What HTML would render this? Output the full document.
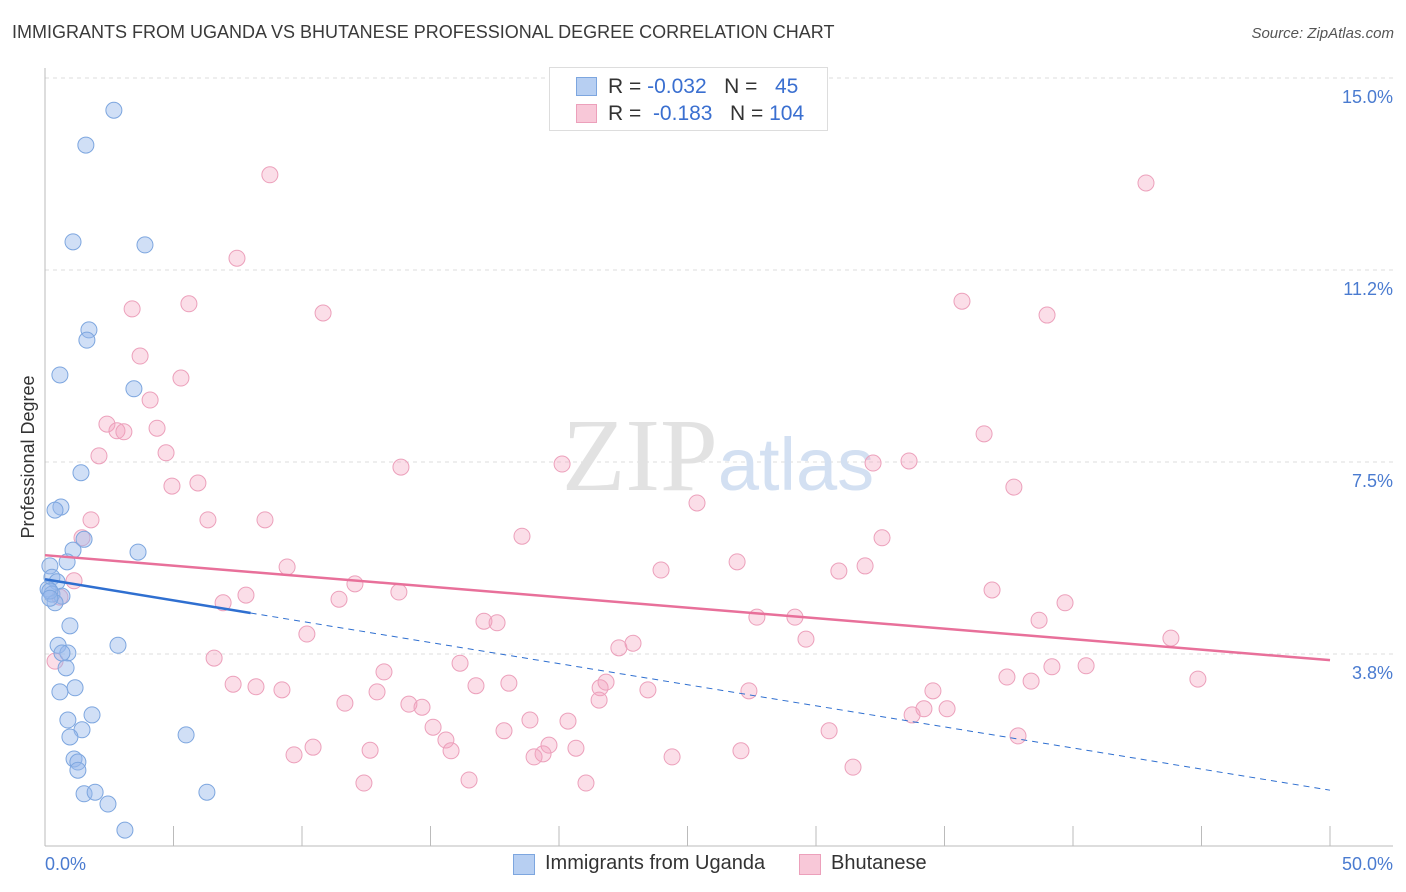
<!DOCTYPE html>
<html><head><meta charset="utf-8"><style>
body{margin:0;background:#fff;font-family:"Liberation Sans",sans-serif;}
#wrap{position:relative;width:1406px;height:892px;overflow:hidden;}
.t{position:absolute;white-space:nowrap;}
</style></head><body>
<div id="wrap">
<div class="t" style="left:12px;top:22px;font-size:18px;color:#3a3a3a;">IMMIGRANTS FROM UGANDA VS BHUTANESE PROFESSIONAL DEGREE CORRELATION CHART</div>
<div class="t" style="right:12px;top:25px;font-size:15px;color:#555;font-style:italic;">Source: ZipAtlas.com</div>
<svg id="svg" width="1406" height="892" style="position:absolute;left:0;top:0"></svg>
</div>
<script>
const xTicks=[0,5,10,15,20,25,30,35,40,45,50];
const yGrid=[15,11.25,7.5,3.75];
const yTickLabels=["15.0%","11.2%","7.5%","3.8%"];
const blueX=[2.68,1.59,1.09,3.89,1.71,1.63,0.58,3.46,1.40,0.62,0.39,1.52,1.09,3.62,0.86,0.19,0.27,0.47,0.12,0.27,0.66,0.39,0.19,2.84,0.51,0.97,0.89,0.66,0.82,1.17,0.58,1.83,0.89,1.44,0.97,5.49,1.13,1.28,1.28,1.52,1.95,2.45,6.30,3.11,0.19];
const blueY=[14.37,13.69,11.80,11.74,10.08,9.88,9.20,8.93,7.29,6.62,6.56,5.99,5.78,5.74,5.55,5.47,5.25,5.16,5.02,4.92,4.88,4.75,4.98,3.92,3.92,4.30,3.77,3.77,3.48,3.09,3.01,2.56,2.46,2.27,2.13,2.17,1.70,1.64,1.48,1.02,1.05,0.82,1.05,0.31,4.84];
const pinkX=[8.75,42.84,7.47,3.39,5.60,10.82,35.68,38.99,3.70,5.29,4.09,2.41,2.80,3.07,4.36,4.71,2.10,4.94,5.95,13.85,20.12,32.22,33.62,36.54,37.70,1.79,6.34,8.56,25.37,1.44,18.56,32.57,9.42,23.97,26.93,30.89,31.91,1.13,12.06,7.82,6.93,11.44,13.77,36.85,39.69,0.58,17.08,17.59,27.70,29.18,10.19,22.88,22.33,29.61,43.81,38.68,6.58,16.15,13.19,39.18,40.51,37.43,38.37,44.86,7.32,8.21,9.22,18.05,16.77,21.60,21.83,23.46,27.39,12.92,11.67,14.16,14.67,21.56,34.55,34.20,35.10,33.74,15.10,18.87,20.35,17.86,30.51,15.60,15.80,10.43,12.65,19.61,20.66,19.38,19.03,9.69,24.40,27.08,37.86,16.50,12.41,21.05,31.44,0.39];
const pinkY=[13.11,12.95,11.48,10.49,10.59,10.41,10.64,10.37,9.57,9.14,8.71,8.24,8.11,8.09,8.16,7.68,7.62,7.03,7.09,7.40,7.46,7.48,7.52,8.05,7.01,6.37,6.37,6.37,6.70,6.02,6.05,6.02,5.45,5.39,5.55,5.37,5.47,5.18,5.12,4.90,4.75,4.82,4.96,5.00,4.75,4.86,4.39,4.36,4.47,4.47,4.14,3.96,3.87,4.04,4.06,4.41,3.67,3.57,3.40,3.50,3.52,3.30,3.22,3.26,3.16,3.11,3.05,3.18,3.13,3.09,3.20,3.05,3.03,3.01,2.79,2.77,2.71,2.85,3.03,2.68,2.68,2.56,2.32,2.46,2.44,2.25,2.25,2.07,1.86,1.93,1.87,1.97,1.91,1.80,1.74,1.78,1.74,1.86,2.15,1.29,1.23,1.23,1.54,3.61];
const blueTrend=[5.21,1.09], pinkTrend=[5.68,3.63], blueSolidEnd=8;
const NS="http://www.w3.org/2000/svg";
const svg=document.getElementById('svg');
const X=v=>45+v/50*1285, Y=v=>846-v/3.75*192;
function mk(t,a,p){const e=document.createElementNS(NS,t);for(const k in a)e.setAttribute(k,a[k]);(p||svg).appendChild(e);return e;}
yGrid.forEach((g,i)=>{
 const l=mk('line',{x1:45,x2:1393,y1:Y(g),y2:Y(g),stroke:'#ddd','stroke-dasharray':'4,4'});
 
 
 const t=mk('text',{x:1393,y:Y(g)+25,'text-anchor':'end','font-size':18,fill:'#4a7bd0','font-family':'Liberation Sans'});
 t.textContent=yTickLabels[i];
 
 
});
const ax=mk('line',{x1:45,x2:45,y1:68,y2:846,stroke:'#bbb'});


const bx=mk('line',{x1:45,x2:1393,y1:846,y2:846,stroke:'#bbb'});


xTicks.forEach(v=>{const l=mk('line',{x1:X(v),x2:X(v),y1:826,y2:846,stroke:'#bbb'});
 
 });
[[0,"0.0%",'start',45],[50,"50.0%",'end',1393]].forEach(a=>{const t=mk('text',{x:a[3],y:870,'text-anchor':a[2],'font-size':18,fill:'#4a7bd0','font-family':'Liberation Sans'});t.textContent=a[1];
 
 });
const yt=mk('text',{x:0,y:0,transform:'translate(34,457) rotate(-90)','text-anchor':'middle','font-size':18,fill:'#333','font-family':'Liberation Sans'});
yt.textContent='Professional Degree';


const wm=mk('text',{x:718,y:490,'text-anchor':'middle','font-size':96,'font-family':'Liberation Serif',fill:'#ddd'});
wm.innerHTML='<tspan fill="#e2e2e2" font-size="104">ZIP</tspan><tspan fill="#d3e0f2" font-family="Liberation Sans" font-size="74">atlas</tspan>';


pinkX.forEach((x,i)=>{const c=mk('circle',{cx:X(x),cy:Y(pinkY[i]),r:8,fill:'rgba(244,160,190,0.35)',stroke:'#eca0bb','stroke-width':1});
 
 });
blueX.forEach((x,i)=>{const c=mk('circle',{cx:X(x),cy:Y(blueY[i]),r:8,fill:'rgba(150,185,235,0.45)',stroke:'#7da6df','stroke-width':1});
 
 });
const bAt=v=>blueTrend[0]+(blueTrend[1]-blueTrend[0])*v/50;
const bd=mk('line',{x1:X(blueSolidEnd),y1:Y(bAt(blueSolidEnd)),x2:X(50),y2:Y(blueTrend[1]),stroke:'#2f6fd0','stroke-width':1,'stroke-dasharray':'6,5'});


const bs=mk('line',{x1:X(0),y1:Y(blueTrend[0]),x2:X(blueSolidEnd),y2:Y(bAt(blueSolidEnd)),stroke:'#2f6fd0','stroke-width':2.5});


const pl=mk('line',{x1:X(0),y1:Y(pinkTrend[0]),x2:X(50),y2:Y(pinkTrend[1]),stroke:'#e8709a','stroke-width':2.5});


</script>
<div style="position:absolute;left:549px;top:67px;width:277px;height:62px;border:1px solid #ddd;background:#fff;font-size:21px;">
 <div style="position:absolute;left:26px;top:9px;width:19px;height:17px;background:#b7cff2;border:1px solid #7da6df"></div>
 <div class="t" style="left:58px;top:7px;color:#333">R = <span style="color:#3a6fd0">-0.032</span>&nbsp;&nbsp;&nbsp;N = &nbsp;&nbsp;<span style="color:#3a6fd0">45</span></div>
 <div style="position:absolute;left:26px;top:36px;width:19px;height:17px;background:#f8c8d8;border:1px solid #eca0bb"></div>
 <div class="t" style="left:58px;top:34px;color:#333">R = &nbsp;<span style="color:#3a6fd0">-0.183</span>&nbsp;&nbsp;&nbsp;N = <span style="color:#3a6fd0">104</span></div>
</div>
<div style="position:absolute;left:513px;top:852px;font-size:20px;color:#333;">
 <div style="position:absolute;left:0;top:2px;width:20px;height:19px;background:#b7cff2;border:1px solid #7da6df"></div>
 <div class="t" style="left:32px;top:0px">Immigrants from Uganda</div>
 <div style="position:absolute;left:286px;top:2px;width:20px;height:19px;background:#f8c8d8;border:1px solid #eca0bb"></div>
 <div class="t" style="left:318px;top:0px">Bhutanese</div>
</div>
</body></html>
